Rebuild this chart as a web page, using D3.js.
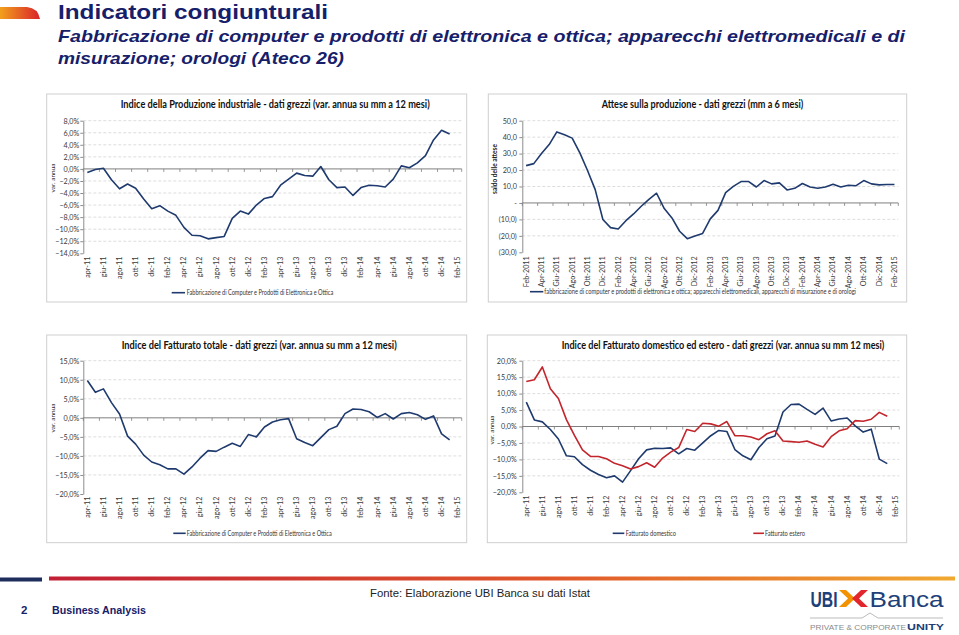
<!DOCTYPE html>
<html><head><meta charset="utf-8">
<script src="https://cdn.jsdelivr.net/npm/d3@7/dist/d3.min.js"></script>
<style>body{margin:0;background:#fff}</style>
</head><body>
<svg id="c" width="959" height="635"></svg>
<script>
// ---------- DATA ----------
const catsIt = ["apr-11","mag-11","giu-11","lug-11","ago-11","set-11","ott-11","nov-11","dic-11","gen-12","feb-12","mar-12","apr-12","mag-12","giu-12","lug-12","ago-12","set-12","ott-12","nov-12","dic-12","gen-13","feb-13","mar-13","apr-13","mag-13","giu-13","lug-13","ago-13","set-13","ott-13","nov-13","dic-13","gen-14","feb-14","mar-14","apr-14","mag-14","giu-14","lug-14","ago-14","set-14","ott-14","nov-14","dic-14","gen-15","feb-15"];
const catsAttese = ["Feb-2011","Mar-2011","Apr-2011","Mag-2011","Giu-2011","Lug-2011","Ago-2011","Set-2011","Ott-2011","Nov-2011","Dic-2011","Gen-2012","Feb-2012","Mar-2012","Apr-2012","Mag-2012","Giu-2012","Lug-2012","Ago-2012","Set-2012","Ott-2012","Nov-2012","Dic-2012","Gen-2013","Feb-2013","Mar-2013","Apr-2013","Mag-2013","Giu-2013","Lug-2013","Ago-2013","Set-2013","Ott-2013","Nov-2013","Dic-2013","Gen-2014","Feb-2014","Mar-2014","Apr-2014","Mag-2014","Giu-2014","Lug-2014","Ago-2014","Set-2014","Ott-2014","Nov-2014","Dic-2014","Gen-2015","Feb-2015"];

const produzione = [-0.6,-0.1,0.1,-1.8,-3.3,-2.5,-3.2,-5.0,-6.6,-6.1,-7.0,-7.7,-9.7,-11.0,-11.1,-11.6,-11.4,-11.2,-8.2,-7.0,-7.5,-6.0,-4.9,-4.6,-2.7,-1.7,-0.7,-1.1,-1.2,0.4,-1.8,-3.1,-3.0,-4.4,-3.1,-2.7,-2.8,-3.0,-1.7,0.5,0.2,1.0,2.2,4.8,6.4,5.8];
const attese = [22.7,23.9,30.0,35.5,43.2,41.4,39.4,30.4,19.7,8.1,-10.1,-15.0,-15.8,-10.8,-6.7,-2.0,2.2,5.9,-3.4,-9.1,-17.2,-21.7,-20.1,-18.5,-9.7,-4.5,6.3,10.1,13.0,13.0,9.7,13.6,11.6,12.2,7.9,8.9,11.8,9.7,8.9,9.7,11.4,9.7,10.8,10.5,13.6,11.6,11.0,11.2,11.2];
const fatturatoTot = [9.8,6.7,7.6,4.0,1.0,-4.8,-6.9,-9.8,-11.6,-12.3,-13.4,-13.4,-14.8,-12.9,-10.6,-8.6,-8.8,-7.7,-6.7,-7.5,-4.4,-5.0,-2.4,-1.1,-0.5,-0.2,-5.5,-6.5,-7.3,-5.2,-3.1,-2.2,1.1,2.3,2.2,1.6,0.1,1.1,-0.3,1.1,1.4,0.8,-0.4,0.5,-4.2,-5.8];
const fatturatoDom = [7.4,2.0,1.4,-0.9,-3.8,-8.9,-9.2,-11.6,-13.3,-14.6,-15.6,-15.0,-16.9,-13.4,-9.8,-7.1,-6.6,-6.7,-6.5,-8.3,-6.7,-7.2,-5.0,-2.8,-1.2,-1.5,-7.0,-8.9,-10.1,-6.4,-3.7,-2.9,4.4,6.7,6.8,5.2,3.7,5.6,1.7,2.3,2.6,0.2,-1.7,-0.8,-9.9,-11.3];
const fatturatoEst = [13.7,14.2,18.1,11.5,8.5,2.1,-2.7,-7.1,-9.1,-9.1,-9.8,-11.2,-11.9,-12.9,-12.2,-11.0,-12.4,-9.6,-7.8,-6.4,-0.9,-1.5,1.0,0.8,0.1,1.5,-2.8,-2.8,-3.2,-4.0,-2.2,-1.3,-4.4,-4.6,-4.8,-4.4,-5.4,-6.2,-3.1,-1.3,-0.7,1.8,1.6,2.2,4.3,3.1];

const ticksProd = [8,6,4,2,0,-2,-4,-6,-8,-10,-12,-14];
const ticksAttese = [50,40,30,20,10,0,-10,-20,-30];
const ticksFatt = [15,10,5,0,-5,-10,-15,-20];
const ticksFatt2 = [20,15,10,5,0,-5,-10,-15,-20];

// ---------- DRAW ----------
const svg = d3.select('#c');
svg.append('rect').attr('width',959).attr('height',635).attr('fill','#fff');
const NAVY = '#16206a';
const FONT = "Lato, 'Open Sans', 'DejaVu Sans', sans-serif";
const BLUE = '#1f3a6e', RED = '#c3252c';

const defs = svg.append('defs');
const g1 = defs.append('linearGradient').attr('id','gIcon').attr('x1','0').attr('x2','1');
g1.append('stop').attr('offset','0').attr('stop-color','#f2a01c');
g1.append('stop').attr('offset','1').attr('stop-color','#d9232b');
const g2 = defs.append('linearGradient').attr('id','gBar').attr('x1','0').attr('x2','1');
g2.append('stop').attr('offset','0').attr('stop-color','#c21f35');
g2.append('stop').attr('offset','0.55').attr('stop-color','#e0562a');
g2.append('stop').attr('offset','1').attr('stop-color','#f1a930');

// header
svg.append('path').attr('d','M0,7 L27,7 Q38,8 40,19 L0,19 Z').attr('fill','url(#gIcon)');
svg.append('text').attr('x',58).attr('y',18.5).attr('font-family',"'Liberation Sans', Arial, sans-serif").attr('font-weight','bold').attr('font-size',20.5).attr('fill',NAVY).attr('textLength',270).attr('lengthAdjust','spacingAndGlyphs').text('Indicatori congiunturali');
svg.append('text').attr('x',58).attr('y',41.7).attr('font-family',"'Liberation Sans', Arial, sans-serif").attr('font-weight','bold').attr('font-style','italic').attr('font-size',16.5).attr('fill',NAVY).attr('textLength',847).attr('lengthAdjust','spacingAndGlyphs').text('Fabbricazione di computer e prodotti di elettronica e ottica; apparecchi elettromedicali e di');
svg.append('text').attr('x',58).attr('y',63.8).attr('font-family',"'Liberation Sans', Arial, sans-serif").attr('font-weight','bold').attr('font-style','italic').attr('font-size',16.5).attr('fill',NAVY).attr('textLength',286).attr('lengthAdjust','spacingAndGlyphs').text('misurazione; orologi (Ateco 26)');

function drawChart(cfg){
  const g = svg.append('g');
  g.append('rect').attr('x',cfg.box[0]).attr('y',cfg.box[1]).attr('width',cfg.box[2]-cfg.box[0]).attr('height',cfg.box[3]-cfg.box[1]).attr('fill','#fff').attr('stroke','#cfcfcf').attr('stroke-width',1);
  const x = d3.scaleBand().domain(cfg.cats).range([cfg.left,cfg.right]).padding(0);
  const y = d3.scaleLinear().domain([cfg.ticks[cfg.ticks.length-1],cfg.ticks[0]]).range([cfg.bottom,cfg.top]);
  // grid
  g.selectAll('line.grid').data(cfg.ticks.filter(t=>t!==0 && t!==cfg.ticks[cfg.ticks.length-1])).join('line')
    .attr('x1',cfg.left).attr('x2',cfg.right).attr('y1',d=>y(d)).attr('y2',d=>y(d))
    .attr('stroke','#d4d4d4').attr('stroke-width',0.8).attr('stroke-dasharray','3,2');
  // y axis
  const ya = d3.axisLeft(y).tickValues(cfg.ticks).tickFormat(cfg.fmt).tickSizeInner(3).tickSizeOuter(0).tickPadding(cfg.pad);
  const yg = g.append('g').attr('transform',`translate(${cfg.left},0)`).call(ya);
  yg.select('.domain').attr('stroke','#8c8c8c');
  yg.selectAll('.tick line').attr('stroke','#8c8c8c');
  yg.selectAll('text').attr('font-family',FONT).attr('font-size',7.2).attr('fill','#3a3a3a');
  // zero line with ticks
  g.append('line').attr('x1',cfg.left).attr('x2',cfg.right).attr('y1',y(0)).attr('y2',y(0)).attr('stroke','#7f7f7f').attr('stroke-width',1);
  const tickCats = cfg.cats.filter((c,i)=>i%2===0);
  g.selectAll('line.xt').data(tickCats).join('line')
    .attr('x1',d=>x(d)).attr('x2',d=>x(d)).attr('y1',y(0)).attr('y2',y(0)+3).attr('stroke','#7f7f7f').attr('stroke-width',0.8);
  g.append('line').attr('x1',cfg.right).attr('x2',cfg.right).attr('y1',y(0)).attr('y2',y(0)+3).attr('stroke','#7f7f7f').attr('stroke-width',0.8);
  // x labels at bottom
  const xa = d3.axisBottom(x).tickValues(tickCats).tickSize(0).tickPadding(0);
  const xg = g.append('g').attr('transform',`translate(0,${cfg.bottom})`).call(xa);
  xg.select('.domain').remove();
  xg.selectAll('text').attr('transform','rotate(-90)').attr('text-anchor','end').attr('x',-cfg.labOff).attr('y',0).attr('dy','0.33em')
    .attr('font-family',FONT).attr('font-size',7.2).attr('fill','#3a3a3a');
  // series
  cfg.series.forEach(s=>{
    const line = d3.line().x((d,i)=>x(cfg.cats[i])+x.bandwidth()/2).y(d=>y(d));
    g.append('path').datum(s.values).attr('d',line).attr('fill','none').attr('stroke',s.color).attr('stroke-width',1.6).attr('stroke-linejoin','round');
  });
  // title
  g.append('text').attr('x',cfg.title[1]).attr('y',cfg.title[2]).attr('font-family',FONT).attr('font-weight','bold').attr('font-size',10.5).attr('fill','#111')
    .attr('textLength',cfg.title[3]).attr('lengthAdjust','spacingAndGlyphs').text(cfg.title[0]);
  // y title
  g.append('text').attr('transform',`translate(${cfg.ytitle[1]},${cfg.ytitle[2]}) rotate(-90)`).attr('text-anchor','middle').attr('dy','0.33em')
    .attr('font-family',FONT).attr('font-size',6.5).attr('font-weight',cfg.ytitle[3]||'normal').attr('fill','#222').text(cfg.ytitle[0]);
  // legend
  cfg.legend.forEach(l=>{
    g.append('line').attr('x1',l.x1).attr('x2',l.x2).attr('y1',l.y).attr('y2',l.y).attr('stroke',l.color).attr('stroke-width',1.6);
    g.append('text').attr('x',l.tx).attr('y',l.y).attr('dy','0.33em').attr('font-family',FONT).attr('font-size',7).attr('fill','#333')
      .attr('textLength',l.tw).attr('lengthAdjust','spacingAndGlyphs').text(l.text);
  });
}

const fmtPct = d=> d3.format('.1f')(d).replace('.',',')+'%';
const fmtAtt = d=> d===0 ? '-' : (d<0 ? '('+d3.format('.1f')(-d).replace('.',',')+')' : d3.format('.1f')(d).replace('.',',')+' ');

drawChart({box:[46.7,94,466.7,302], left:83.3, right:461.7, top:120.7, bottom:253.3, ticks:ticksProd, fmt:fmtPct, pad:1, labOff:3.4,
  cats:catsIt, series:[{values:produzione,color:BLUE}],
  title:['Indice della Produzione  industriale - dati grezzi (var. annua su mm a 12 mesi)',120.7,108,309],
  ytitle:['var. annua',52.7,178],
  legend:[{x1:171.7,x2:185,y:292.7,color:BLUE,tx:186.7,tw:146.6,text:'Fabbricazione di Computer e Prodotti di Elettronica e Ottica'}]});

drawChart({box:[488.3,94,906.7,302], left:522.3, right:898.3, top:120.7, bottom:252.3, ticks:ticksAttese, fmt:fmtAtt, pad:2.5, labOff:4,
  cats:catsAttese, series:[{values:attese,color:BLUE}],
  title:['Attese sulla produzione  - dati grezzi (mm a 6 mesi)',601.7,108,201.6],
  ytitle:['saldo delle attese',495,169,'bold'],
  legend:[{x1:530,x2:543.3,y:291.7,color:BLUE,tx:544.3,tw:311.7,text:'fabbricazione di computer e prodotti di elettronica  e ottica; apparecchi elettromedicali, apparecchi di misurazione e di orologi'}]});

drawChart({box:[46.7,335,466.7,542.7], left:83.3, right:461.7, top:360.7, bottom:494, ticks:ticksFatt, fmt:fmtPct, pad:1, labOff:2.7,
  cats:catsIt, series:[{values:fatturatoTot,color:BLUE}],
  title:['Indice del Fatturato totale - dati grezzi (var. annua su mm a 12 mesi)',121.7,349,275],
  ytitle:['var. annua',52.7,418],
  legend:[{x1:173.3,x2:185.7,y:533.3,color:BLUE,tx:186.7,tw:145,text:'Fabbricazione di Computer e Prodotti di Elettronica e Ottica'}]});

drawChart({box:[487.3,335,906.7,542.7], left:522.3, right:899.3, top:360.7, bottom:492.3, ticks:ticksFatt2, fmt:fmtPct, pad:2.6, labOff:3.4,
  cats:catsIt, series:[{values:fatturatoDom,color:BLUE},{values:fatturatoEst,color:RED}],
  title:['Indice del Fatturato domestico ed estero - dati grezzi (var. annua su mm 12 mesi)',561.7,349,322.6],
  ytitle:['var. annua',491.7,430],
  legend:[{x1:612.7,x2:624.3,y:533.3,color:BLUE,tx:625.7,tw:50.3,text:'Fatturato domestico'},
          {x1:753.3,x2:764,y:533.3,color:RED,tx:765,tw:40,text:'Fatturato estero'}]});

// footer
svg.append('rect').attr('x',0).attr('y',577.5).attr('width',42).attr('height',4).attr('fill','#1d2d5c');
svg.append('rect').attr('x',49).attr('y',576.5).attr('width',906).attr('height',4).attr('fill','url(#gBar)');
svg.append('text').attr('x',370).attr('y',597).attr('font-family',"'Liberation Sans', Arial, sans-serif").attr('font-size',11.5).attr('fill','#222')
  .attr('textLength',220).attr('lengthAdjust','spacingAndGlyphs').text('Fonte: Elaborazione UBI Banca su dati Istat');
svg.append('text').attr('x',21).attr('y',614).attr('font-family',"'Liberation Sans', Arial, sans-serif").attr('font-weight','bold').attr('font-size',11.5).attr('fill',NAVY).text('2');
svg.append('text').attr('x',52).attr('y',614).attr('font-family',"'Liberation Sans', Arial, sans-serif").attr('font-weight','bold').attr('font-size',11.5).attr('fill',NAVY)
  .attr('textLength',94).attr('lengthAdjust','spacingAndGlyphs').text('Business Analysis');
// logo
const LOGO = '#1d3f7a';
svg.append('text').attr('x',810.5).attr('y',606.7).attr('font-family',"'Liberation Sans', Arial, sans-serif").attr('font-weight','bold').attr('font-size',22).attr('fill',LOGO)
  .attr('textLength',27).attr('lengthAdjust','spacingAndGlyphs').text('UBI');
svg.append('polygon').attr('points','839,590 846,590 855,598.5 846,607 839,607 848,598.5').attr('fill','#f39200');
svg.append('polygon').attr('points','868,590 861,590 852,598.5 861,607 868,607 859,598.5').attr('fill','#e3262b');
svg.append('text').attr('x',869.5).attr('y',606.7).attr('font-family',"'Liberation Sans', Arial, sans-serif").attr('font-size',22).attr('fill',LOGO)
  .attr('textLength',74).attr('lengthAdjust','spacingAndGlyphs').text('Banca');
svg.append('polyline').attr('points','810,618 862,618 870,613 878,618 943,618').attr('fill','none').attr('stroke','#a9a9a9').attr('stroke-width',0.8);
svg.append('text').attr('x',810).attr('y',630).attr('font-family',"'Liberation Sans', Arial, sans-serif").attr('font-size',8).attr('fill','#8a8a8a')
  .attr('textLength',96).attr('lengthAdjust','spacingAndGlyphs').text('PRIVATE & CORPORATE');
svg.append('text').attr('x',907).attr('y',630).attr('font-family',"'Liberation Sans', Arial, sans-serif").attr('font-weight','bold').attr('font-size',8.5).attr('fill',LOGO)
  .attr('textLength',37).attr('lengthAdjust','spacingAndGlyphs').text('UNITY');
</script>
</body></html>
